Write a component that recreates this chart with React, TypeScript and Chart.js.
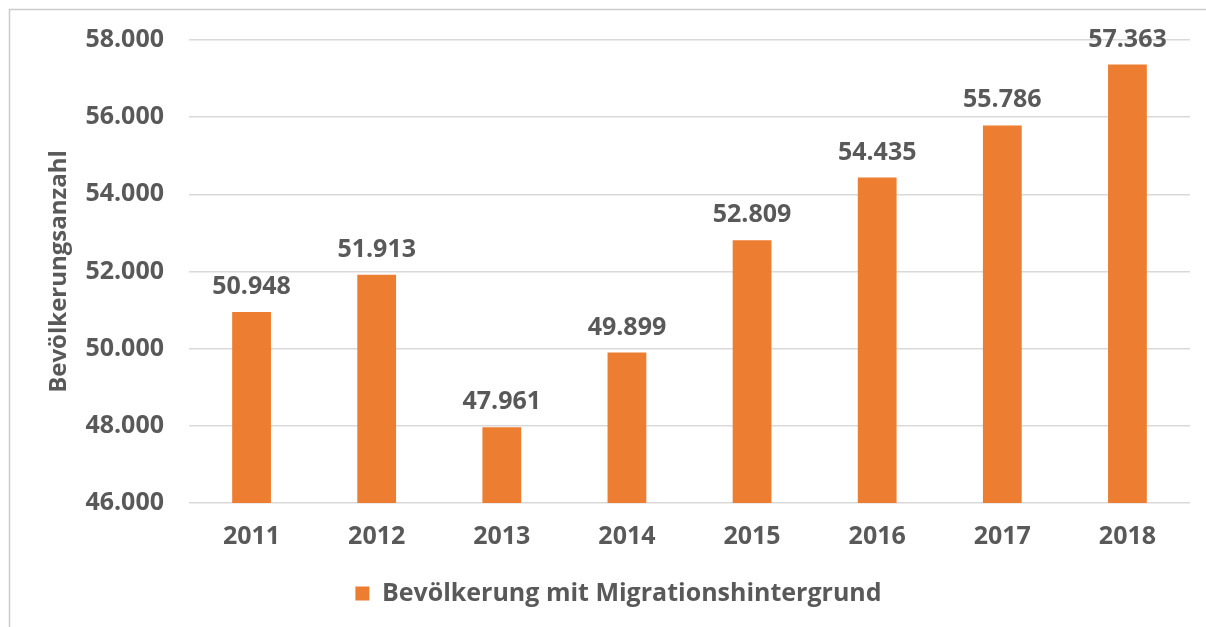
import React, { useEffect, useRef } from "react";
import { Chart, registerables } from "chart.js";

Chart.register(...registerables);

const years = ["2011", "2012", "2013", "2014", "2015", "2016", "2017", "2018"];
const population = [50948, 51913, 47961, 49899, 52809, 54435, 55786, 57363];
const seriesLabel = "Bevölkerung mit Migrationshintergrund";
const yAxisTitle = "Bevölkerungsanzahl";
const yMin = 46000;
const yMax = 58000;
const yStep = 2000;

const FONT = "'Open Sans', 'Noto Sans', sans-serif";
const TEXT = "#595959";
const BAR = "#ED7D31";
const GRID = "#D9D9D9";

const fmt = (v: number) => String(Math.round(v)).replace(/\B(?=(\d{3})+(?!\d))/g, ".");

const frame = {
  id: "frame",
  beforeDraw(chart: any) {
    const { ctx, width, height } = chart;
    ctx.save();
    ctx.fillStyle = "#ffffff";
    ctx.fillRect(0, 0, width, height);
    ctx.strokeStyle = "#CCCCCC";
    ctx.lineWidth = 1.5;
    ctx.beginPath();
    ctx.moveTo(width + 2, 9.5);
    ctx.lineTo(9.5, 9.5);
    ctx.lineTo(9.5, height + 2);
    ctx.stroke();
    ctx.restore();
  },
};

const valueLabels = {
  id: "valueLabels",
  afterDatasetsDraw(chart: any) {
    const { ctx } = chart;
    const meta = chart.getDatasetMeta(0);
    const data = chart.data.datasets[0].data as number[];
    ctx.save();
    ctx.font = `bold 25px ${FONT}`;
    ctx.fillStyle = TEXT;
    ctx.textAlign = "center";
    ctx.textBaseline = "alphabetic";
    meta.data.forEach((el: any, i: number) => {
      ctx.fillText(fmt(data[i]), el.x, el.y - 18);
    });
    ctx.restore();
  },
};

export default function App() {
  const ref = useRef<HTMLCanvasElement | null>(null);
  useEffect(() => {
    if (!ref.current) return;
    const chart = new Chart(ref.current, {
      type: "bar",
      data: {
        labels: years,
        datasets: [
          {
            label: seriesLabel,
            data: population,
            backgroundColor: BAR,
            borderWidth: 0,
            barPercentage: 0.31,
            categoryPercentage: 1,
          },
        ],
      },
      options: {
        animation: false,
        responsive: false,
        devicePixelRatio: 1,
        layout: { padding: { left: 47, top: 39, right: 16, bottom: 11 } },
        plugins: {
          tooltip: { enabled: false },
          legend: {
            position: "bottom",
            labels: {
              boxWidth: 14,
              boxHeight: 14,
              padding: 10,
              color: TEXT,
              font: { family: FONT, size: 25, weight: "bold" },
            },
          },
        },
        scales: {
          x: {
            grid: { display: false },
            border: { display: false },
            ticks: {
              color: TEXT,
              padding: 11,
              font: { family: FONT, size: 25, weight: "bold" },
            },
            afterFit(scale: any) {
              scale.height = 68;
            },
          },
          y: {
            min: yMin,
            max: yMax,
            grid: { color: GRID, lineWidth: 1.5, drawTicks: false },
            border: { display: false },
            ticks: {
              stepSize: yStep,
              color: TEXT,
              padding: 25,
              font: { family: FONT, size: 25, weight: "bold" },
              callback: (v: any) => fmt(Number(v)),
            },
            title: {
              display: true,
              text: yAxisTitle,
              color: TEXT,
              padding: { top: 0, bottom: 0 },
              font: { family: FONT, size: 24, weight: "bold", lineHeight: 1 },
            },
            afterFit(scale: any) {
              scale.width = 142;
            },
          },
        },
      },
      plugins: [frame, valueLabels],
    });
    return () => chart.destroy();
  }, []);
  return (
    <div style={{ position: "absolute", left: 0, top: 0, width: 1206, height: 627 }}>
      <canvas ref={ref} width={1206} height={627} style={{ display: "block" }} />
    </div>
  );
}
